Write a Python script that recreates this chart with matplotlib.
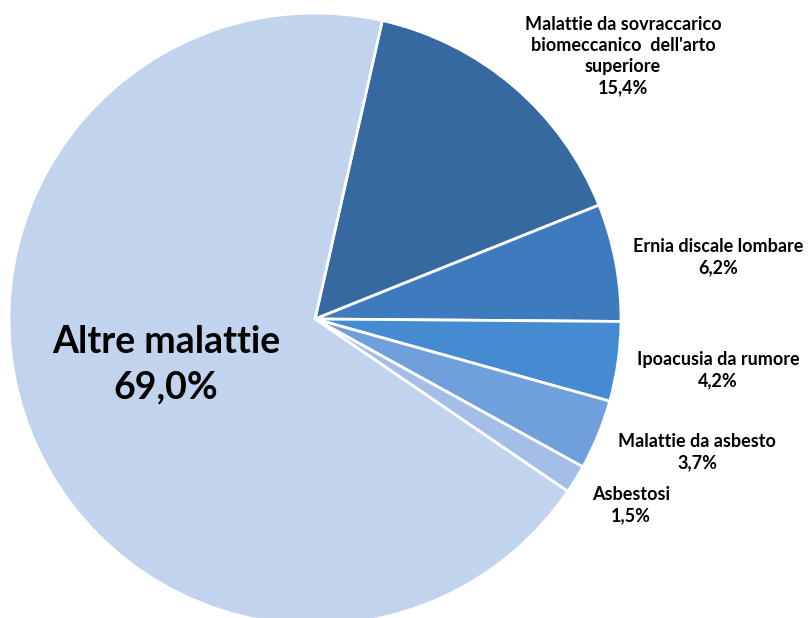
import matplotlib.pyplot as plt

# Data
labels = ["Malattie da sovraccarico\nbiomeccanico  dell'arto\nsuperiore",
          "Ernia discale lombare", "Ipoacusia da rumore",
          "Malattie da asbesto", "Asbestosi", "Altre malattie"]
values = [15.4, 6.2, 4.2, 3.7, 1.5, 69.0]
colors = ["#36699F", "#3E7BBE", "#458BD2", "#70A0DC", "#A4BEE8", "#C2D3EE"]

# label positions in pixels (x, y from top)
label_pos = [(623, 56), (718, 257), (718, 370), (697, 452), (631, 505), (166, 365)]

plt.rcParams['font.family'] = ['Lato', 'DejaVu Sans']

fig = plt.figure(figsize=(8.11, 6.18), dpi=100)
ax = fig.add_axes([0, 0, 1, 1])
ax.set_xlim(0, 811)
ax.set_ylim(0, 618)
ax.set_aspect('equal')
ax.axis('off')

ax.pie(values, colors=colors, startangle=77.3, counterclock=False,
       center=(315, 618 - 319), radius=306,
       wedgeprops=dict(edgecolor='white', linewidth=2))
ax.set_xlim(0, 811)
ax.set_ylim(0, 618)

for lab, v, (x, y) in zip(labels, values, label_pos):
    txt = lab + "\n" + f"{v:.1f}".replace(".", ",") + "%"
    big = lab == "Altre malattie"
    ax.text(x, 618 - y, txt, ha='center', va='center', fontweight='bold',
            fontsize=27 if big else 13, linespacing=1.42 if big else 1.3,
            color='black')

fig.savefig("out.png", dpi=100)
